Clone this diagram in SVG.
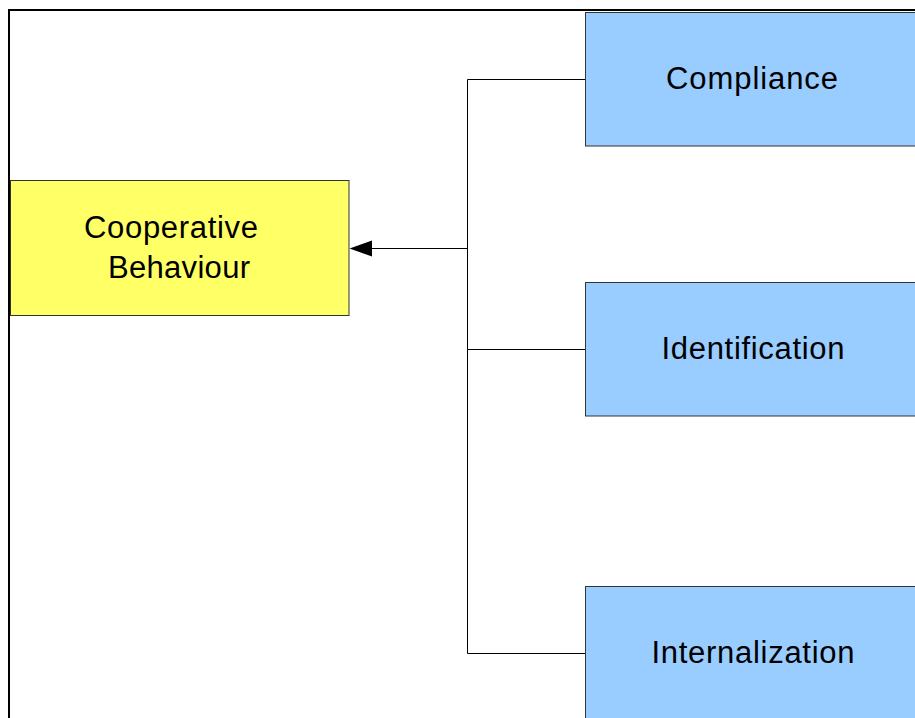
<svg xmlns="http://www.w3.org/2000/svg" width="915" height="718" viewBox="0 0 915 718">
<style>
.box{stroke:#333;stroke-width:1}
.blue{fill:#99ccff}
.yellow{fill:#ffff66}
.t{font-family:"Liberation Sans",Arial,sans-serif;font-size:31px;fill:#000;text-anchor:middle}
.c{stroke:#000;stroke-width:1;fill:none}
</style>
<rect width="915" height="718" fill="#fff"/>
<path d="M9,718 V10 H915" stroke="#000" stroke-width="2" fill="none"/>
<g id="connectors">
<path class="c" d="M467.5,79.5 V653.5"/>
<path class="c" d="M467.5,79.5 H585"/>
<path class="c" d="M467.5,349.5 H585"/>
<path class="c" d="M467.5,653.5 H585"/>
<path class="c" d="M467.5,248.5 H372"/>
<path d="M349.5,248.5 L372,240.5 L372,256.5 Z" fill="#000"/>
</g>
<g id="cooperative">
<rect class="box yellow" x="10.5" y="180.5" width="338.5" height="135"/>
<text class="t" x="171" y="238" textLength="174">Cooperative</text>
<text class="t" x="179" y="278" textLength="142">Behaviour</text>
</g>
<g id="compliance">
<rect class="box blue" x="585.5" y="12.5" width="340" height="133.5"/>
<text class="t" x="752" y="89" textLength="172">Compliance</text>
</g>
<g id="identification">
<rect class="box blue" x="585.5" y="282.5" width="340" height="133.5"/>
<text class="t" x="753" y="359" textLength="183">Identification</text>
</g>
<g id="internalization">
<rect class="box blue" x="585.5" y="586.5" width="340" height="140"/>
<text class="t" x="753" y="663" textLength="203">Internalization</text>
</g>
</svg>
